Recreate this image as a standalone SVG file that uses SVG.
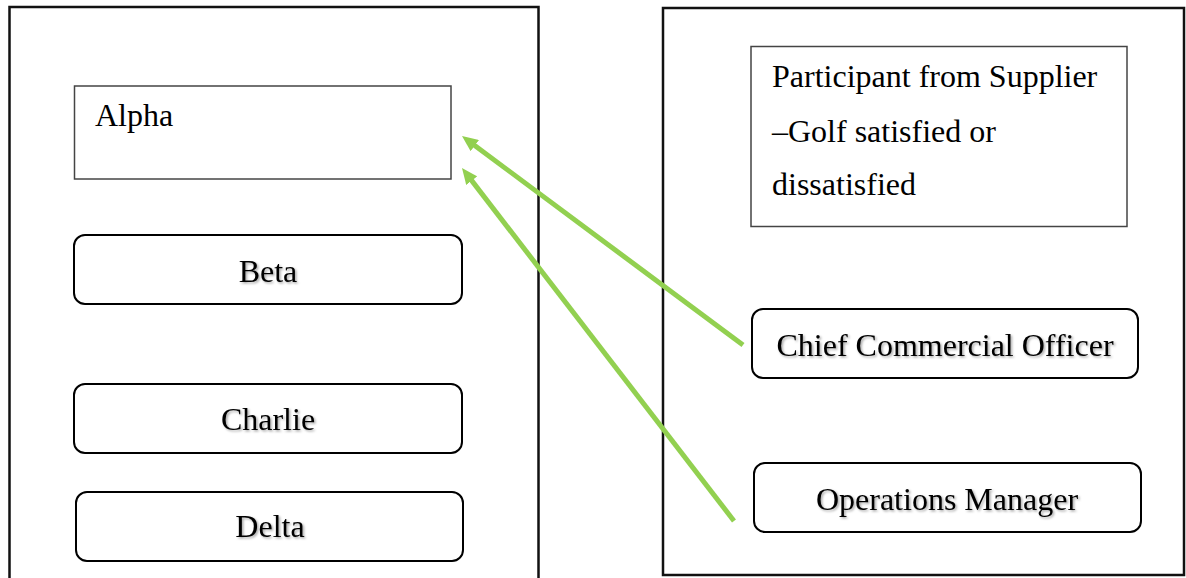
<svg xmlns="http://www.w3.org/2000/svg" width="1186" height="578" viewBox="0 0 1186 578">
  <style>
    .frame { fill: none; stroke: #111; stroke-width: 2.5; }
    .plain { fill: #fff; stroke: #444; stroke-width: 1.5; }
    .round { fill: #fff; stroke: #000; stroke-width: 2; }
    .lbl { font-family: "Liberation Serif", "Times New Roman", serif; font-size: 32px; fill: #000; }
    .mid { text-anchor: middle; }
    .shade { filter: url(#soft); }
    .link { stroke: #92D050; stroke-width: 5; fill: none; }
  </style>
  <defs>
    <filter id="soft" x="-10%" y="-30%" width="120%" height="160%">
      <feDropShadow dx="1.5" dy="1.5" stdDeviation="1.2" flood-color="#000" flood-opacity="0.35"/>
    </filter>
    <marker id="head" viewBox="0 0 16 14" refX="6" refY="7" markerWidth="16" markerHeight="14" markerUnits="userSpaceOnUse" orient="auto">
      <path d="M0,0 L16,7 L0,14 Z" fill="#92D050"/>
    </marker>
  </defs>

  <!-- outer frames -->
  <rect id="frame-left" class="frame" x="9.5" y="7" width="529" height="590"/>
  <rect id="frame-right" class="frame" x="663" y="8" width="521" height="567"/>

  <!-- left column -->
  <g id="alpha">
    <rect class="plain" x="74.5" y="86" width="376.5" height="93"/>
    <text class="lbl" x="95" y="126">Alpha</text>
  </g>
  <g id="beta">
    <rect class="round" x="74" y="235" width="388" height="69" rx="11"/>
    <text class="lbl mid shade" x="268" y="282">Beta</text>
  </g>
  <g id="charlie">
    <rect class="round" x="74" y="384" width="388" height="69" rx="11"/>
    <text class="lbl mid shade" x="268" y="430">Charlie</text>
  </g>
  <g id="delta">
    <rect class="round" x="76" y="492" width="387" height="69" rx="11"/>
    <text class="lbl mid shade" x="270" y="537">Delta</text>
  </g>

  <!-- right column -->
  <g id="participant">
    <rect class="plain" x="751" y="46.5" width="376" height="180"/>
    <text class="lbl" x="772" y="87">Participant from Supplier</text>
    <text class="lbl" x="772" y="142">–Golf satisfied or</text>
    <text class="lbl" x="772" y="195">dissatisfied</text>
  </g>
  <g id="cco">
    <rect class="round" x="752" y="309" width="386" height="69" rx="11"/>
    <text class="lbl mid shade" x="945" y="356">Chief Commercial Officer</text>
  </g>
  <g id="ops">
    <rect class="round" x="754" y="463" width="387" height="69" rx="11"/>
    <text class="lbl mid shade" x="947" y="510">Operations Manager</text>
  </g>

  <!-- connectors -->
  <g id="connectors">
    <line class="link" x1="743" y1="345" x2="470" y2="142" marker-end="url(#head)"/>
    <line class="link" x1="734" y1="521" x2="468.1" y2="175.9" marker-end="url(#head)"/>
  </g>
</svg>
